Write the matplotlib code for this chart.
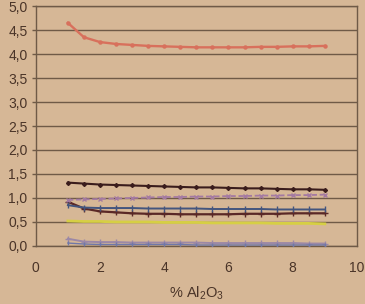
import matplotlib
matplotlib.use("Agg")
import matplotlib.pyplot as plt
from matplotlib.ticker import FuncFormatter

plt.rcParams['font.family'] = ['Liberation Sans', 'DejaVu Sans']
plt.rcParams['mathtext.fontset'] = 'custom'
plt.rcParams['mathtext.rm'] = 'Liberation Sans'
plt.rcParams['mathtext.it'] = 'Liberation Sans'

x = [1.0, 1.5, 2.0, 2.5, 3.0, 3.5, 4.0, 4.5, 5.0, 5.5, 6.0, 6.5, 7.0, 7.5, 8.0, 8.5, 9.0]

red = [4.65, 4.35, 4.25, 4.21, 4.19, 4.17, 4.16, 4.15, 4.14, 4.14, 4.14, 4.14, 4.15, 4.15, 4.16, 4.16, 4.17]
dark = [1.32, 1.30, 1.28, 1.27, 1.26, 1.25, 1.24, 1.23, 1.22, 1.22, 1.21, 1.20, 1.20, 1.19, 1.18, 1.18, 1.17]
purple = [0.96, 0.97, 0.98, 0.99, 1.00, 1.01, 1.02, 1.02, 1.03, 1.03, 1.04, 1.04, 1.05, 1.05, 1.06, 1.06, 1.07]
blue = [0.85, 0.80, 0.79, 0.79, 0.79, 0.78, 0.78, 0.78, 0.78, 0.77, 0.77, 0.77, 0.77, 0.76, 0.76, 0.76, 0.76]
brown = [0.92, 0.78, 0.72, 0.70, 0.68, 0.67, 0.67, 0.66, 0.66, 0.66, 0.66, 0.67, 0.67, 0.67, 0.68, 0.68, 0.68]
yellow = [0.52, 0.51, 0.51, 0.50, 0.50, 0.50, 0.49, 0.49, 0.49, 0.48, 0.48, 0.48, 0.48, 0.47, 0.47, 0.47, 0.46]
lav = [0.15, 0.09, 0.08, 0.08, 0.07, 0.07, 0.07, 0.07, 0.07, 0.06, 0.06, 0.06, 0.06, 0.06, 0.06, 0.05, 0.05]
lowblue = [0.06, 0.04, 0.03, 0.03, 0.03, 0.03, 0.03, 0.03, 0.02, 0.02, 0.02, 0.02, 0.02, 0.02, 0.02, 0.02, 0.02]

yticks = [0.0, 0.5, 1.0, 1.5, 2.0, 2.5, 3.0, 3.5, 4.0, 4.5, 5.0]
xticks = [0, 2, 4, 6, 8, 10]

paper = '#d6b796'
grid = '#6f5a47'
txt = '#4a3428'

fig = plt.figure(figsize=(3.65, 3.04), dpi=100, facecolor=paper)
ax = fig.add_axes([0.098, 0.191, 0.880, 0.789], facecolor=paper)

ax.plot(x, red, color='#d8705c', lw=1.7, marker='o', ms=2.2, zorder=5)
ax.plot(x, lav, color='#9c88a6', lw=1.4, marker='+', ms=4, zorder=4)
ax.plot(x, lowblue, color='#7078a8', lw=1.0, marker='|', ms=3, zorder=4)
ax.plot(x, yellow, color='#d6cf44', lw=2.0, zorder=4)
ax.plot(x, brown, color='#5a2826', lw=1.6, marker='+', ms=4, zorder=4)
ax.plot(x, blue, color='#43557e', lw=1.4, marker='|', ms=4, zorder=4)
ax.plot(x, purple, color='#a47aa2', lw=1.3, ls=(0, (3, 1.5)), marker='x', ms=3, zorder=4)
ax.plot(x, dark, color='#3a1c1c', lw=1.5, marker='D', ms=2, zorder=5)

ax.set_xlim(0, 10)
ax.set_ylim(0, 5)
ax.set_xticks(xticks)
ax.set_yticks(yticks)
ax.yaxis.set_major_formatter(FuncFormatter(lambda v, p: f"{v:.1f}".replace('.', ',')))
ax.grid(axis='y', color=grid, lw=1.0)
ax.set_axisbelow(True)
for s in ax.spines.values():
    s.set_color(grid)
    s.set_linewidth(1.0)
ax.tick_params(axis='y', length=3, width=1, color=grid, pad=3, labelsize=10, labelcolor=txt)
ax.tick_params(axis='x', length=0, pad=11, labelsize=10, labelcolor=txt)
ax.set_xlabel('% Al$_2$O$_3$', fontsize=10.5, color=txt, labelpad=7)

fig.savefig('out.png', dpi=100, facecolor=paper)
